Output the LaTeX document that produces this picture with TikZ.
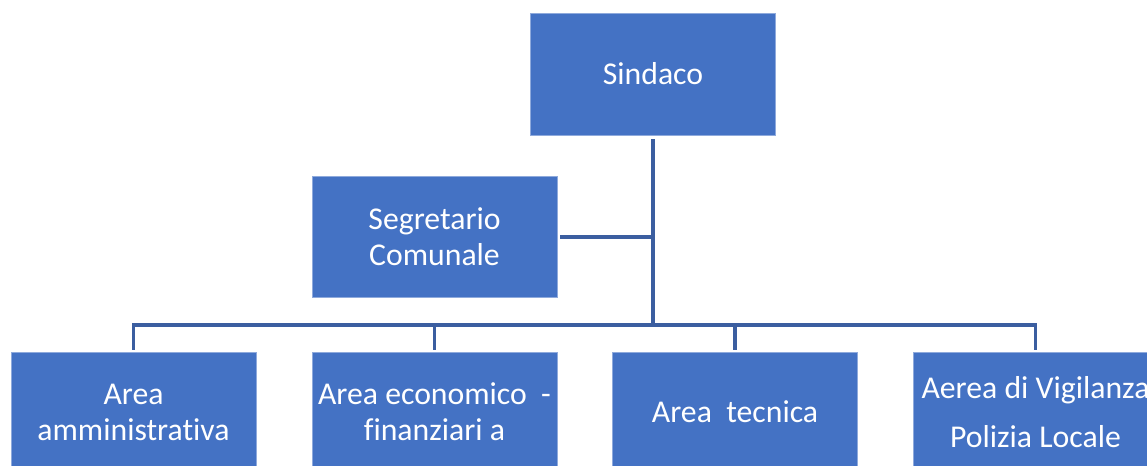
\documentclass[tikz,border=0pt]{standalone}
\usepackage{fontspec}
\setmainfont[Ligatures={NoCommon}]{Carlito}
\definecolor{boxfill}{HTML}{4472C4}
\definecolor{boxedge}{HTML}{8FAADC}
\definecolor{connc}{HTML}{3B5EA0}
\tikzset{
  orgbox/.style={rectangle, fill=boxfill, draw=boxedge, line width=0.6pt,
    minimum width=245*0.75pt, minimum height=121*0.75pt, inner sep=0pt,
    text=white, align=center, font=\fontsize{23.8}{27}\selectfont},
  conn/.style={draw=connc, line width=2.6pt}
}
\begin{document}
\begin{tikzpicture}[x=0.75pt,y=-0.75pt]
\useasboundingbox (0,0) rectangle (1147,465);
\clip (0,0) rectangle (1147,465);
\fill[white] (0,0) rectangle (1147,465);
\node[orgbox, minimum height=122*0.75pt] (sindaco) at (653,74) {Sindaco};
\node[orgbox] (seg) at (434.5,237) {Segretario\\Comunale};
\node[orgbox, minimum height=120*0.75pt] (a1) at (133.5,412) {Area\\amministrativa};
\node[orgbox, minimum height=120*0.75pt] (a2) at (434.5,412) {Area economico\ \ -\\finanziari a};
\node[orgbox, minimum height=120*0.75pt] (a3) at (735,412) {Area\ \ tecnica};
\node[orgbox, minimum height=120*0.75pt, font=\fontsize{23.8}{36.75}\selectfont] (a4) at (1035.5,412) {Aerea di Vigilanza\\Polizia Locale};
\coordinate (hub) at (653,325);
\draw[conn, shorten <=3pt] (sindaco.south) -- (hub);
\draw[conn, shorten <=2pt] (seg.east) -- (seg.east -| hub);
\draw[conn, shorten <=1.5pt] (a1.north) |- (hub);
\draw[conn, shorten <=1.5pt] (a4.north) |- (hub);
\draw[conn, shorten <=1.5pt] (a2.north) -- (a2.north |- hub);
\draw[conn, shorten <=1.5pt] (a3.north) -- (a3.north |- hub);
\end{tikzpicture}
\end{document}
